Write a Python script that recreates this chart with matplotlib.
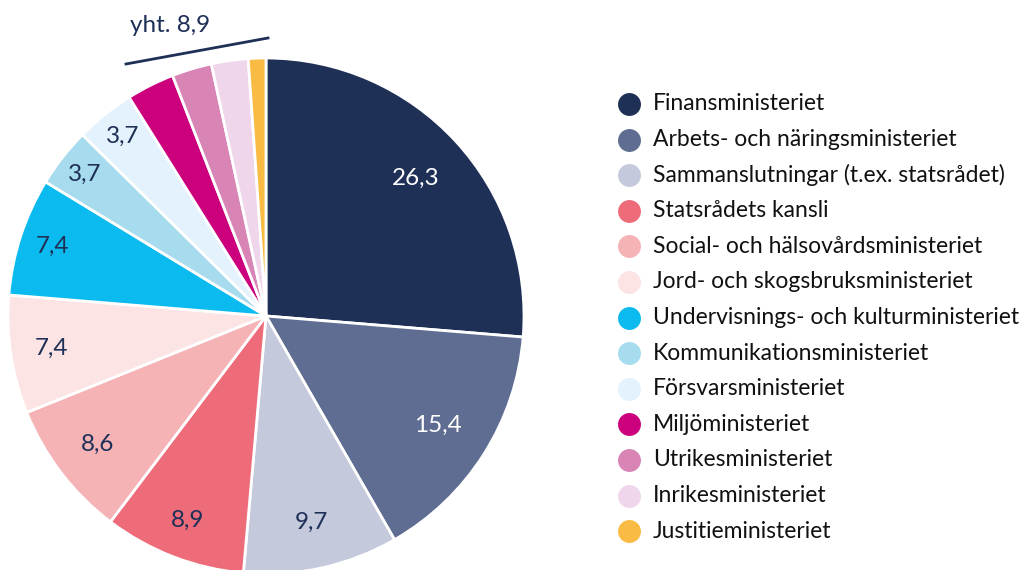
import numpy as np
import matplotlib.pyplot as plt
from matplotlib.lines import Line2D

plt.rcParams['font.family'] = ['Lato', 'DejaVu Sans']

labels = ['Finansministeriet', 'Arbets- och näringsministeriet',
          'Sammanslutningar (t.ex. statsrådet)', 'Statsrådets kansli',
          'Social- och hälsovårdsministeriet', 'Jord- och skogsbruksministeriet',
          'Undervisnings- och kulturministeriet', 'Kommunikationsministeriet',
          'Försvarsministeriet', 'Miljöministeriet', 'Utrikesministeriet',
          'Inrikesministeriet', 'Justitieministeriet']
values = [26.3, 15.4, 9.7, 8.9, 8.6, 7.4, 7.4, 3.7, 3.7, 3.0, 2.5, 2.3, 1.1]
colors = ['#1f3057', '#5e6d91', '#c5c9dc', '#ee6c7a', '#f5b3b6', '#fce4e4',
          '#0bbbef', '#a7dbee', '#e3f2fc', '#cc007d', '#d884b5', '#efd6ea',
          '#f9bb44']
# radial position of the value labels (fraction of radius), first 9 slices
label_dist = [0.79, 0.79, 0.82, 0.85, 0.82, 0.84, 0.87, 0.89, 0.89]
navy = '#1f3057'

W, H = 1026, 570
fig = plt.figure(figsize=(W / 100, H / 100), dpi=100)

cx, cy, r = 266, 316, 258
ax = fig.add_axes([(cx - r) / W, (H - cy - r) / H, 2 * r / W, 2 * r / H])
wedges, _ = ax.pie(values, colors=colors, startangle=90, counterclock=False,
                   radius=1, wedgeprops=dict(edgecolor='white', linewidth=2))
ax.set_xlim(-1, 1)
ax.set_ylim(-1, 1)
ax.set_aspect('equal')
ax.axis('off')

start = 90.0
for i, v in enumerate(values):
    ang = start - v * 3.6 / 2
    start -= v * 3.6
    if i >= len(label_dist):
        continue
    d = label_dist[i]
    x, y = d * np.cos(np.radians(ang)), d * np.sin(np.radians(ang))
    col = 'white' if i < 2 else navy
    ax.text(x, y, f'{v:.1f}'.replace('.', ','), ha='center', va='center',
            fontsize=17.5, color=col)

# bracket for the small slices
fig.add_artist(Line2D([126 / W, 268 / W], [1 - 64 / H, 1 - 38 / H],
                      color=navy, lw=2, transform=fig.transFigure))
fig.text(170 / W, 1 - 25 / H, 'yht. 8,9', ha='center', va='center',
         fontsize=17.5, color=navy)

# legend
y0, dy = 104, 35.6
for i, (lab, c) in enumerate(zip(labels, colors)):
    y = 1 - (y0 + i * dy) / H
    fig.add_artist(Line2D([629 / W], [y], marker='o', markersize=16.5,
                          markerfacecolor=c, markeredgecolor='none',
                          linestyle='none', transform=fig.transFigure))
    fig.text(653 / W, y, lab, ha='left', va='center', fontsize=16.5,
             color='#111111')

fig.savefig('out.png', dpi=100)
